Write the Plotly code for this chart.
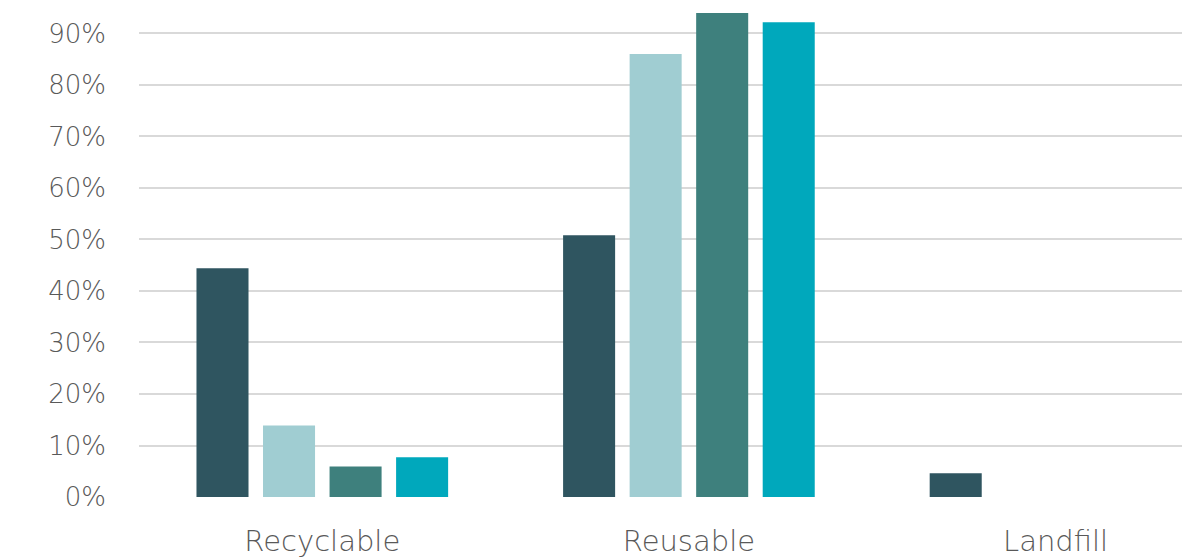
import plotly.graph_objects as go

categories = ["Recyclable", "Reusable", "Landfill"]
series_names = ["Series 1", "Series 2", "Series 3", "Series 4"]
series_values = [
    [0.444, 0.508, 0.046],
    [0.139, 0.860, 0.0],
    [0.059, 0.940, 0.0],
    [0.077, 0.922, 0.0],
]
series_colors = ["#2F5560", "#A0CDD2", "#3E807D", "#00A8BC"]
y_tickvals = [0, 0.1, 0.2, 0.3, 0.4, 0.5, 0.6, 0.7, 0.8, 0.9]

fig = go.Figure()
for name, vals, color in zip(series_names, series_values, series_colors):
    fig.add_trace(go.Bar(
        x=categories, y=vals, name=name,
        marker=dict(color=color, line=dict(width=0)),
    ))

font_family = "'DejaVu Sans', sans-serif"
fig.update_layout(
    width=1203, height=559,
    margin=dict(l=139, r=21, t=0, b=62),
    plot_bgcolor="white", paper_bgcolor="white",
    barmode="group", bargap=0.274, bargroupgap=0.218,
    showlegend=False,
    font=dict(family=font_family, color="#595959"),
)
fig.update_xaxes(
    range=[-0.5, 2.345],
    showgrid=False, showline=False, zeroline=False,
    ticks="", tickfont=dict(size=29, color="#595959", weight=200),
    ticklabelstandoff=24,
)
fig.update_yaxes(
    range=[0, 0.965],
    tickvals=y_tickvals, tickformat=".0%",
    showgrid=True, gridcolor="#D9D9D9", gridwidth=2,
    zeroline=False, showline=False, ticks="",
    tickfont=dict(size=26, color="#595959", weight=200),
    ticklabelstandoff=32,
)

fig.write_html("out.html")
